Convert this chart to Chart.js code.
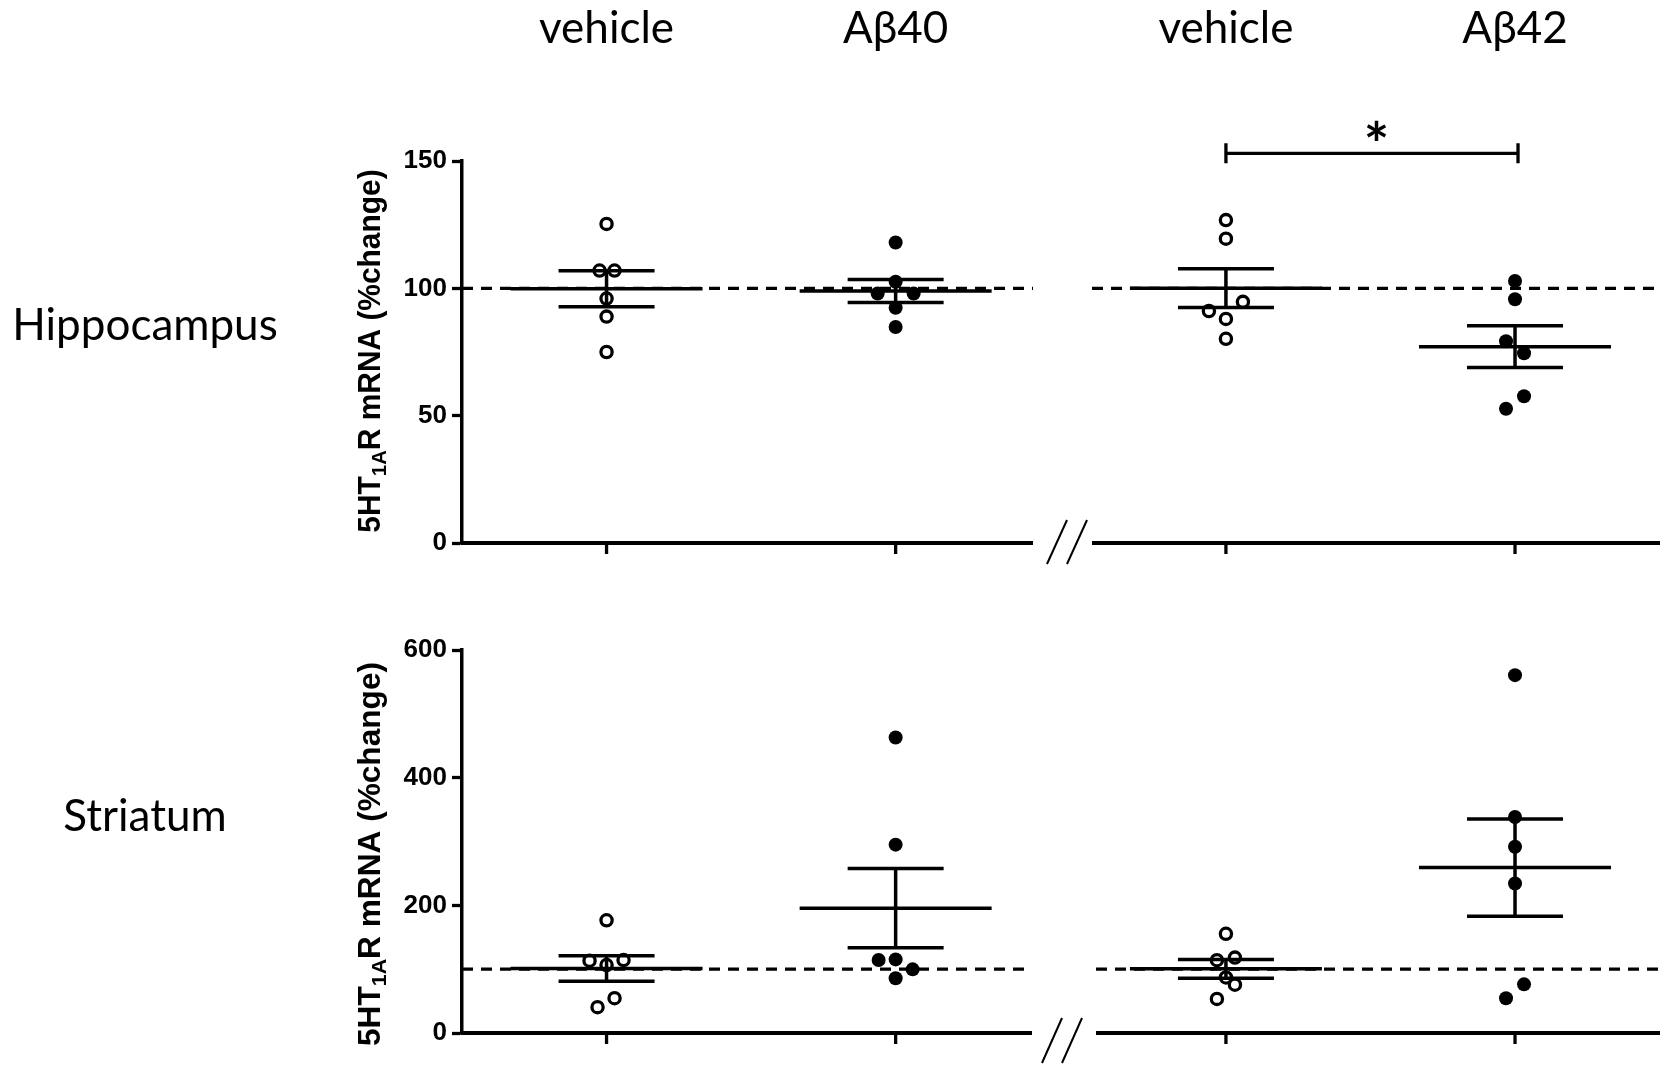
<!DOCTYPE html>
<html>
<head>
<meta charset="utf-8">
<script src="https://cdn.jsdelivr.net/npm/chart.js@4.4.1/dist/chart.umd.min.js"></script>
<style>
  html, body { margin: 0; padding: 0; background: #fff; }
  body { width: 1660px; height: 1066px; position: relative; overflow: hidden; }
  canvas { position: absolute; left: 0; }
  #hipChart { top: 0; }
  #strChart { top: 600px; }
</style>
</head>
<body>
<canvas id="hipChart" width="1660" height="600"></canvas>
<canvas id="strChart" width="1660" height="466"></canvas>
<script>
// colonnes et lignes
const groupLabels = ['vehicle', 'Aβ40', 'vehicle', 'Aβ42'];
const rowLabels = ['Hippocampus', 'Striatum'];
const yTitle = ['5HT', '1A', 'R mRNA (%change)']; // 1A en indice

// hippocampe (% de changement)
const hipVehicle40 = [125.3, 107.0, 107.0, 96.0, 88.9, 75.0];
const hipAbeta40 = [118.0, 102.6, 98.0, 98.0, 92.4, 84.8];
const hipVehicle42 = [126.8, 119.5, 94.7, 91.1, 88.0, 80.2];
const hipAbeta42 = [102.9, 95.7, 79.2, 74.5, 57.6, 52.7];

// striatum (% de changement)
const strVehicle40 = [176.6, 113.2, 114.3, 106.5, 54.5, 40.5];
const strAbeta40 = [462.9, 295.1, 114.3, 115.3, 99.7, 85.7];
const strVehicle42 = [155.4, 118.1, 114.0, 87.0, 75.6, 53.4];
const strAbeta42 = [560.6, 338.3, 291.7, 234.2, 76.2, 54.4];

// ticks des axes y
const hipTicks = [0, 50, 100, 150];
const strTicks = [0, 200, 400, 600];

const baseline = 100;   // ligne pointillée
const sigLevel = 153;   // hauteur du crochet * (vehicle vs Aβ42, hippocampe)
const sigLabel = '*';

// decalage horizontal des points qui se chevauchent (px)
const hipJitter = [[0, -7, 8, 0, 0, 0], [0, 0, -18, 18, 0, 0], [0, 0, 17, -17, 0, 0], [0, 0, -9, 9, 9, -9]];
const strJitter = [[0, -17, 17, 0, 8, -9], [0, 0, -17, 0, 17, 0], [0, 9, -9, 0, 9, -9], [0, 0, 0, 0, 9, -9]];

// mise en page
const AXIS_LEFT = 462;
const X_MIN = -0.5, X_MAX = 3.644;
const BREAK_GAP = 0.1425;
const UNIT_PX = (1660 - AXIS_LEFT) / (X_MAX - X_MIN);
const MEAN_HALF = 96, SEM_HALF = 48;

const groupPos = (i) => i + (i >= 2 ? BREAK_GAP : 0);

function meanSem(v) {
  const n = v.length;
  const m = v.reduce((a, b) => a + b, 0) / n;
  const sd = Math.sqrt(v.reduce((a, b) => a + (b - m) * (b - m), 0) / (n - 1));
  return { m: m, sem: sd / Math.sqrt(n) };
}

function makeDatasets(groups, jitter) {
  return groups.map((vals, i) => {
    const open = (i % 2 === 0);
    return {
      data: vals.map((v, k) => ({ x: groupPos(i) + jitter[i][k] / UNIT_PX, y: v })),
      pointStyle: 'circle',
      pointRadius: open ? 5.6 : 7,
      pointHoverRadius: open ? 5.6 : 7,
      pointBorderWidth: open ? 3.3 : 0,
      pointBorderColor: '#000',
      pointBackgroundColor: open ? 'rgba(0,0,0,0)' : '#000',
      showLine: false
    };
  });
}

// titre vertical avec indice
function drawYTitle(ctx, bx, cy, stretch) {
  const main = 'bold 31px "Liberation Sans", Arial, sans-serif';
  const sub = 'bold 21px "Liberation Sans", Arial, sans-serif';
  const parts = [[yTitle[0], main, 0], [yTitle[1], sub, 6], [yTitle[2], main, 0]];
  let total = 0;
  parts.forEach(p => { ctx.font = p[1]; total += ctx.measureText(p[0]).width; });
  ctx.save();
  ctx.translate(bx, cy);
  ctx.rotate(-Math.PI / 2);
  ctx.scale(stretch, 1);
  ctx.fillStyle = '#000';
  ctx.textAlign = 'left';
  ctx.textBaseline = 'alphabetic';
  let x = -total / 2;
  parts.forEach(p => {
    ctx.font = p[1];
    ctx.fillText(p[0], x, p[2]);
    x += ctx.measureText(p[0]).width;
  });
  ctx.restore();
}

function decor(panel) {
  return {
    id: 'decor',
    beforeDatasetsDraw(chart) {
      const ctx = chart.ctx;
      const xs = chart.scales.x, ys = chart.scales.y;
      const area = chart.chartArea;
      ctx.save();
      ctx.strokeStyle = '#000';

      // ligne pointillée à 100 %
      const yb = ys.getPixelForValue(baseline);
      ctx.lineWidth = 3.2;
      ctx.setLineDash([11, 8]);
      ctx.beginPath();
      ctx.moveTo(area.left, yb); ctx.lineTo(panel.gap[0], yb);
      ctx.moveTo(panel.gap[1], yb); ctx.lineTo(area.right, yb);
      ctx.stroke();
      ctx.setLineDash([]);

      // moyenne +/- SEM
      ctx.lineWidth = 3.5;
      panel.groups.forEach((vals, i) => {
        const s = meanSem(vals);
        const px = xs.getPixelForValue(groupPos(i));
        const ym = ys.getPixelForValue(s.m);
        const yh = ys.getPixelForValue(s.m + s.sem);
        const yl = ys.getPixelForValue(s.m - s.sem);
        ctx.beginPath();
        ctx.moveTo(px - MEAN_HALF, ym); ctx.lineTo(px + MEAN_HALF, ym);
        ctx.moveTo(px - SEM_HALF, yh); ctx.lineTo(px + SEM_HALF, yh);
        ctx.moveTo(px - SEM_HALF, yl); ctx.lineTo(px + SEM_HALF, yl);
        ctx.moveTo(px, yh); ctx.lineTo(px, yl);
        ctx.stroke();
      });

      // axe x coupé
      const y0 = area.bottom;
      ctx.lineWidth = 3.8;
      ctx.beginPath();
      ctx.moveTo(area.left - 1.7, y0); ctx.lineTo(panel.gap[0], y0);
      ctx.moveTo(panel.gap[1], y0); ctx.lineTo(area.right, y0);
      ctx.stroke();
      ctx.lineWidth = 3.3;
      groupLabels.forEach((g, i) => {
        const px = xs.getPixelForValue(groupPos(i));
        ctx.beginPath();
        ctx.moveTo(px, y0); ctx.lineTo(px, y0 + 11);
        ctx.stroke();
      });
      ctx.lineWidth = 2;
      panel.slashes.forEach(sx => {
        ctx.beginPath();
        ctx.moveTo(sx + 10, y0 + panel.slashTop);
        ctx.lineTo(sx - 10, y0 + panel.slashBottom);
        ctx.stroke();
      });
      ctx.restore();
    },
    afterDraw(chart) {
      const ctx = chart.ctx;
      const xs = chart.scales.x, ys = chart.scales.y;
      ctx.save();
      ctx.fillStyle = '#000';
      ctx.strokeStyle = '#000';

      drawYTitle(ctx, 380, panel.titleY, panel.titleStretch);

      ctx.font = '44px Lato, "Open Sans", sans-serif';
      ctx.textAlign = 'center';
      ctx.textBaseline = 'alphabetic';
      ctx.fillText(panel.rowLabel, 145, panel.rowY);

      if (panel.showGroups) {
        groupLabels.forEach((g, i) => {
          ctx.fillText(g, xs.getPixelForValue(groupPos(i)), 43);
        });
      }

      if (panel.sig) {
        const x1 = xs.getPixelForValue(groupPos(2));
        const x2 = xs.getPixelForValue(groupPos(3));
        const yS = ys.getPixelForValue(sigLevel);
        ctx.lineWidth = 3.3;
        ctx.beginPath();
        ctx.moveTo(x1, yS); ctx.lineTo(x2 + 3, yS);
        ctx.moveTo(x1, yS - 10); ctx.lineTo(x1, yS + 10);
        ctx.moveTo(x2 + 3, yS - 10); ctx.lineTo(x2 + 3, yS + 10);
        ctx.stroke();
        ctx.font = 'bold 60px Lato, "Open Sans", sans-serif';
        ctx.fillText(sigLabel, (x1 + x2) / 2 + 6, yS + 13);
      }
      ctx.restore();
    }
  };
}

function makeChart(id, groups, jitter, ticks, pad, panel) {
  panel.groups = groups;
  const ctx = document.getElementById(id).getContext('2d');
  return new Chart(ctx, {
    type: 'scatter',
    data: { datasets: makeDatasets(groups, jitter) },
    options: {
      responsive: false,
      animation: false,
      events: [],
      layout: { autoPadding: false, padding: { top: pad[0], bottom: pad[1], left: 0, right: 0 } },
      plugins: { legend: { display: false }, tooltip: { enabled: false } },
      scales: {
        x: { type: 'linear', min: X_MIN, max: X_MAX, display: false },
        y: {
          min: ticks[0],
          max: ticks[ticks.length - 1],
          afterBuildTicks: (s) => { s.ticks = ticks.map(v => ({ value: v })); },
          afterFit: (s) => { s.width = AXIS_LEFT; },
          grid: { drawOnChartArea: false, drawTicks: true, tickLength: 10, tickWidth: 3.3, color: '#000', tickColor: '#000' },
          border: { display: true, color: '#000', width: 3.5 },
          ticks: {
            color: '#000',
            padding: 5,
            font: { family: '"Liberation Sans", Arial, sans-serif', size: 26, weight: 'bold' }
          }
        }
      }
    },
    plugins: [decor(panel)]
  });
}

const hipChart = makeChart('hipChart',
  [hipVehicle40, hipAbeta40, hipVehicle42, hipAbeta42], hipJitter, hipTicks, [161, 57],
  { gap: [1033, 1092], slashes: [1057, 1077], slashTop: -23, slashBottom: 21,
    rowLabel: rowLabels[0], rowY: 340, titleY: 351, titleStretch: 0.965, showGroups: true, sig: true });

const strChart = makeChart('strChart',
  [strVehicle40, strAbeta40, strVehicle42, strAbeta42], strJitter, strTicks, [50, 33],
  { gap: [1032, 1096], slashes: [1052, 1072], slashTop: -15, slashBottom: 30,
    rowLabel: rowLabels[1], rowY: 231, titleY: 254, titleStretch: 1.02, showGroups: false, sig: false });
</script>
</body>
</html>
